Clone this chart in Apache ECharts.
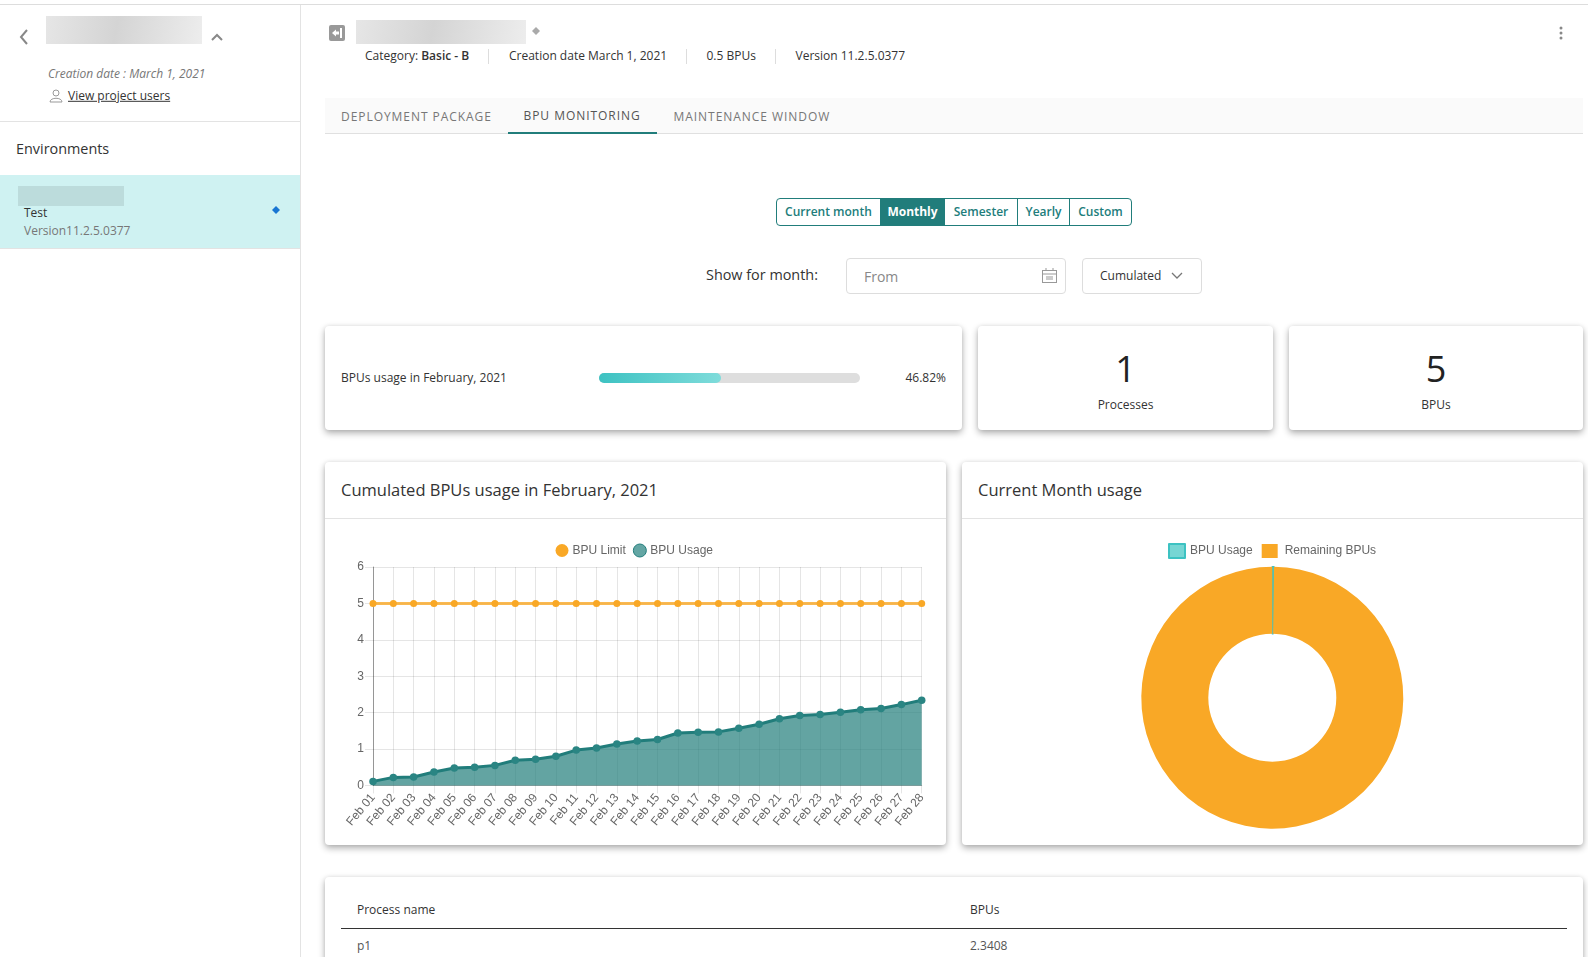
<!DOCTYPE html>
<html><head><meta charset="utf-8"><title>BPU monitoring</title>
<script src="https://cdn.jsdelivr.net/npm/echarts@6/dist/echarts.min.js"></script>
<style>
html,body{margin:0;padding:0;width:1588px;height:957px;overflow:hidden;background:#fff;font-family:"Open Sans",sans-serif;color:#333}
.a{position:absolute;white-space:nowrap}
.t{position:absolute;white-space:nowrap;transform:translateY(-50%);font-size:12px;line-height:1.2}
.card{position:absolute;background:#fff;border-radius:4px;box-shadow:0 3px 7px rgba(0,0,0,.32),0 0 4px rgba(0,0,0,.06)}
.blur{position:absolute;background:linear-gradient(100deg,#e6e6e6,#d4d4d4 45%,#ededed)}
.btn{position:absolute;top:199px;height:26px;line-height:25px;text-align:center;font-size:12px;font-weight:600;color:#217d7b;border-left:1px solid #217d7b;box-sizing:border-box}
</style></head><body>
<div class="a" style="left:0;top:4px;width:1588px;height:1px;background:#ddd"></div>
<div class="a" style="left:300px;top:5px;width:1px;height:952px;background:#e3e3e3"></div>
<!-- sidebar -->
<svg class="a" style="left:17px;top:28px" width="14" height="18"><path d="M10 2 L4 9 L10 16" fill="none" stroke="#888" stroke-width="2"/></svg>
<div class="blur" style="left:46px;top:16px;width:156px;height:28px"></div>
<svg class="a" style="left:211px;top:33px" width="12" height="10"><path d="M1 7 L6 2 L11 7" fill="none" stroke="#888" stroke-width="2"/></svg>
<div class="t" style="left:48px;top:73.500px;font-style:italic;color:#777">Creation date : March 1, 2021</div>
<svg class="a" style="left:49px;top:89px" width="14" height="14"><circle cx="7" cy="4" r="3" fill="none" stroke="#999"/><path d="M1 13 C1 8 13 8 13 13 Z" fill="none" stroke="#999"/></svg>
<div class="t" style="left:68px;top:96px;text-decoration:underline;color:#333">View project users</div>
<div class="a" style="left:0;top:121px;width:300px;height:1px;background:#e3e3e3"></div>
<div class="t" style="left:16px;top:149px;font-size:14.400px;font-weight:500;color:#333">Environments</div>
<div class="a" style="left:0;top:175px;width:300px;height:73px;background:#cff2f2;border-bottom:1px solid #e3e3e3"></div>
<div class="a" style="left:18px;top:186px;width:106px;height:20px;background:#bcdcdc"></div>
<div class="t" style="left:24px;top:213px;color:#333">Test</div>
<div class="t" style="left:24px;top:231px;color:#777">Version11.2.5.0377</div>
<svg class="a" style="left:272px;top:206px" width="8" height="8"><path d="M4 0 L8 4 L4 8 L0 4 Z" fill="#1976d2"/></svg>
<!-- header -->
<svg class="a" style="left:329px;top:25px" width="16" height="16"><rect width="16" height="16" rx="2" fill="#999"/><path d="M3 8 L7 4.500 V6.500 H10 V9.500 H7 V11.500 Z M11 3 H13 V13 H11 Z" fill="#fff"/></svg>
<div class="blur" style="left:356px;top:20px;width:170px;height:24px"></div>
<svg class="a" style="left:532px;top:27px" width="8" height="8"><path d="M4 0 L8 4 L4 8 L0 4 Z" fill="#aaa"/></svg>
<svg class="a" style="left:1559px;top:26px" width="4" height="14"><circle cx="2" cy="2" r="1.500" fill="#888"/><circle cx="2" cy="7" r="1.500" fill="#888"/><circle cx="2" cy="12" r="1.500" fill="#888"/></svg>
<div class="t" style="left:365px;top:56px">Category: <span style="font-weight:600">Basic - B</span></div>
<div class="a" style="left:488px;top:49px;width:1px;height:15px;background:#ddd"></div>
<div class="t" style="left:509px;top:56px">Creation date March 1, 2021</div>
<div class="a" style="left:686px;top:49px;width:1px;height:15px;background:#ddd"></div>
<div class="t" style="left:706.500px;top:56px">0.5 BPUs</div>
<div class="a" style="left:775px;top:49px;width:1px;height:15px;background:#ddd"></div>
<div class="t" style="left:795.500px;top:56px">Version 11.2.5.0377</div>
<!-- tabs -->
<div class="a" style="left:325px;top:98px;width:1258px;height:35px;background:#fafafa;border-bottom:1px solid #e0e0e0"></div>
<div class="t" style="left:341px;top:116.500px;letter-spacing:.95px;color:#777">DEPLOYMENT PACKAGE</div>
<div class="t" style="left:523.500px;top:115.500px;letter-spacing:.95px;color:#555">BPU MONITORING</div>
<div class="a" style="left:508px;top:132px;width:149px;height:1.500px;background:#217d7b"></div>
<div class="t" style="left:673.500px;top:116.500px;letter-spacing:.95px;color:#777">MAINTENANCE WINDOW</div>
<!-- range buttons -->
<div class="a" style="left:776px;top:198px;width:356px;height:28px;border:1px solid #217d7b;border-radius:4px;box-sizing:border-box"></div>
<div class="btn" style="left:777px;width:103px;border-left:0">Current month</div>
<div class="btn" style="left:880px;width:65px;background:#217d7b;color:#fff;font-weight:700;border-left:0">Monthly</div>
<div class="btn" style="left:945px;width:72px;border-left:0">Semester</div>
<div class="btn" style="left:1017px;width:52px">Yearly</div>
<div class="btn" style="left:1069px;width:62px">Custom</div>
<div class="t" style="left:706px;top:275px;font-size:14.400px;font-weight:500;color:#333">Show for month:</div>
<div class="a" style="left:846px;top:258px;width:220px;height:36px;border:1px solid #ddd;border-radius:4px;box-sizing:border-box"></div>
<div class="t" style="left:864px;top:277px;font-size:14px;color:#888">From</div>
<svg class="a" style="left:1042px;top:268px" width="15" height="15"><rect x=".5" y="2.500" width="14" height="12" fill="none" stroke="#999"/><path d="M0 6 H15 M4 0 V3 M11 0 V3" stroke="#999"/><rect x="4" y="8" width="7" height="4" fill="#ccc"/></svg>
<div class="a" style="left:1082px;top:258px;width:120px;height:36px;border:1px solid #ddd;border-radius:4px;box-sizing:border-box"></div>
<div class="t" style="left:1100px;top:275.500px">Cumulated</div>
<svg class="a" style="left:1171px;top:272px" width="12" height="8"><path d="M1 1 L6 6 L11 1" fill="none" stroke="#777" stroke-width="1.300"/></svg>
<!-- stat cards -->
<div class="card" style="left:325px;top:326px;width:637px;height:104px"></div>
<div class="t" style="left:341px;top:378px">BPUs usage in February, 2021</div>
<div class="a" style="left:599px;top:373px;width:261px;height:10px;border-radius:5px;background:#dedede"></div>
<div class="a" style="left:599px;top:373px;width:122px;height:10px;border-radius:5px;background:linear-gradient(90deg,#3dc2c2,#7fdcdb)"></div>
<div class="t" style="right:642px;top:378px">46.82%</div>
<div class="card" style="left:978px;top:326px;width:295px;height:104px"></div>
<div class="t" style="left:978px;width:295px;text-align:center;top:369px;font-size:36px;font-weight:500;color:#222">1</div>
<div class="t" style="left:978px;width:295px;text-align:center;top:405px">Processes</div>
<div class="card" style="left:1289px;top:326px;width:294px;height:104px"></div>
<div class="t" style="left:1289px;width:294px;text-align:center;top:369px;font-size:36px;font-weight:500;color:#222">5</div>
<div class="t" style="left:1289px;width:294px;text-align:center;top:405px">BPUs</div>
<!-- chart cards -->
<div class="card" style="left:325px;top:462px;width:621px;height:383px"></div>
<div class="t" style="left:341px;top:490px;font-size:16.500px;font-weight:500;color:#333">Cumulated BPUs usage in February, 2021</div>
<div class="a" style="left:325px;top:518px;width:621px;height:1px;background:#e3e3e3"></div>
<div class="card" style="left:962px;top:462px;width:621px;height:383px"></div>
<div class="t" style="left:978px;top:490px;font-size:16.500px;font-weight:500;color:#333">Current Month usage</div>
<div class="a" style="left:962px;top:518px;width:621px;height:1px;background:#e3e3e3"></div>
<div id="lineChart" class="a" style="left:325px;top:519px;width:621px;height:326px"></div>
<div id="pieChart" class="a" style="left:962px;top:519px;width:621px;height:326px"></div>
<!-- table -->
<div class="card" style="left:325px;top:877px;width:1258px;height:120px"></div>
<div class="t" style="left:357px;top:910px;font-weight:500">Process name</div>
<div class="t" style="left:970px;top:910px;font-weight:500">BPUs</div>
<div class="a" style="left:341px;top:928px;width:1226px;height:1px;background:#333"></div>
<div class="t" style="left:357px;top:946px;color:#555">p1</div>
<div class="t" style="left:970px;top:946px;color:#555">2.3408</div>
<script>
const days = ["Feb 01","Feb 02","Feb 03","Feb 04","Feb 05","Feb 06","Feb 07","Feb 08","Feb 09","Feb 10","Feb 11","Feb 12","Feb 13","Feb 14","Feb 15","Feb 16","Feb 17","Feb 18","Feb 19","Feb 20","Feb 21","Feb 22","Feb 23","Feb 24","Feb 25","Feb 26","Feb 27","Feb 28"];
const bpuLimit = [5,5,5,5,5,5,5,5,5,5,5,5,5,5,5,5,5,5,5,5,5,5,5,5,5,5,5,5];
const bpuUsage = [0.11,0.22,0.23,0.37,0.48,0.50,0.55,0.69,0.72,0.80,0.97,1.03,1.14,1.22,1.26,1.44,1.46,1.47,1.57,1.68,1.83,1.92,1.95,2.01,2.08,2.11,2.22,2.34];
const pieNames = ["BPU Usage","Remaining BPUs"];
const pieValues = [0.01,4.99];
const axisFont = "Liberation Sans";
const TEAL="#217d7b", ORANGE="#f9a826";

const line = echarts.init(document.getElementById('lineChart'));
line.setOption({
  animation:false,
  legend:{top:24.5,left:230.5,padding:0,itemWidth:13,itemHeight:13,itemGap:7,icon:'circle',
    textStyle:{fontFamily:axisFont,fontSize:12,color:'#666',padding:[0,0,2,-1]},
    data:[{name:'BPU Limit',itemStyle:{color:ORANGE}},{name:'BPU Usage',itemStyle:{color:'#64a6a4',borderColor:TEAL,borderWidth:1}}]},
  grid:{left:48,right:24.3,top:48,bottom:59.6},
  xAxis:{type:'category',data:days,boundaryGap:false,
    axisLine:{show:true,onZero:false,lineStyle:{color:'rgba(0,0,0,.25)',width:1}},
    axisTick:{show:true,length:8,lineStyle:{color:'rgba(0,0,0,.1)'}},
    splitLine:{show:true,lineStyle:{color:'rgba(0,0,0,.1)',width:1}},
    axisLabel:{interval:0,rotate:50,margin:10,fontFamily:axisFont,fontSize:12,color:'#666'}},
  yAxis:{type:'value',min:0,max:6,interval:1,
    axisLine:{show:true,lineStyle:{color:'rgba(0,0,0,.35)',width:1}},
    axisTick:{show:true,length:8,lineStyle:{color:'rgba(0,0,0,.1)'}},
    splitLine:{show:true,lineStyle:{color:'rgba(0,0,0,.1)',width:1}},
    axisLabel:{margin:9,fontFamily:axisFont,fontSize:12,color:'#666'}},
  series:[
    {name:'BPU Limit',type:'line',data:bpuLimit,symbol:'circle',symbolSize:7,showAllSymbol:true,
     itemStyle:{color:ORANGE},lineStyle:{color:'rgba(249,168,38,.8)',width:3}},
    {name:'BPU Usage',type:'line',data:bpuUsage,symbol:'circle',symbolSize:7.5,showAllSymbol:true,
     itemStyle:{color:'#2a8583'},lineStyle:{color:TEAL,width:3},
     areaStyle:{color:TEAL,opacity:.7,origin:'start'}}
  ]
});

const pie = echarts.init(document.getElementById('pieChart'));
pie.setOption({
  animation:false,
  legend:{top:24,left:206,padding:0,itemWidth:16,itemHeight:14,itemGap:9,icon:'rect',
    textStyle:{fontFamily:axisFont,fontSize:12,color:'#666',padding:[0,0,2,0]},
    data:[{name:pieNames[0],itemStyle:{color:'#76d6d4',borderColor:'#3dc2c2',borderWidth:2}},
          {name:pieNames[1],itemStyle:{color:ORANGE},textStyle:{padding:[0,0,2,2]}}]},
  series:[{type:'pie',center:[310.3,178.7],radius:[64,131],startAngle:90,clockwise:true,label:{show:false},labelLine:{show:false},
    data:[
      {name:pieNames[0],value:pieValues[0],itemStyle:{color:'#76d6d4',borderColor:'#3dc2c2',borderWidth:1.5}},
      {name:pieNames[1],value:pieValues[1],itemStyle:{color:ORANGE}}
    ]}]
});
</script>
</body></html>
